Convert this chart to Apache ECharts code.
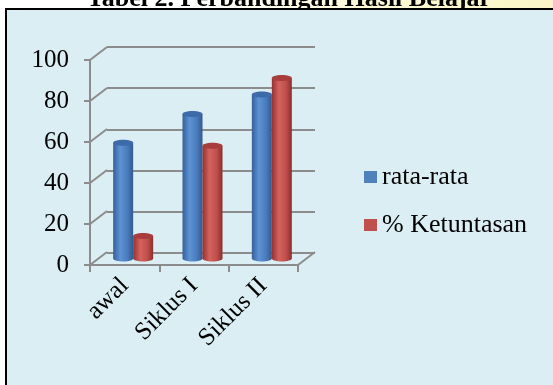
<!DOCTYPE html>
<html>
<head>
<meta charset="utf-8">
<script src="https://cdn.jsdelivr.net/npm/echarts@6/dist/echarts.min.js"></script>
<style>
  html, body { margin: 0; padding: 0; background: #fff; }
  #chart { width: 553px; height: 385px; }
</style>
</head>
<body>
<div id="chart"></div>
<script>
// data
const categories = ['awal', 'Siklus I', 'Siklus II'];
const rataRata = [56.5, 70.5, 80];
const ketuntasan = [11, 55, 88];
const yTicks = [0, 20, 40, 60, 80, 100];

const FONT = '"Liberation Serif", "Times New Roman", serif';
const DX = 17, DY = -13; // depth of the 3d box
const BAR_W = 20;

const chart = echarts.init(document.getElementById('chart'));

// left wall diagonals + right floor edge
function renderWall(params, api) {
  const cs = params.coordSys;
  const y = api.coord([0, api.value(0)])[1];
  const children = [{
    type: 'line',
    shape: { x1: cs.x, y1: y, x2: cs.x + DX, y2: y + DY },
    style: { stroke: '#8c8c8c', lineWidth: 2 }
  }];
  if (api.value(0) === 0) {
    children.push({
      type: 'line',
      shape: { x1: cs.x + cs.width, y1: y, x2: cs.x + cs.width + DX, y2: y + DY },
      style: { stroke: '#8c8c8c', lineWidth: 2 }
    });
  }
  return { type: 'group', children };
}

function cylinder(side, colors) {
  return function (params, api) {
    const cat = api.value(0);
    const base = api.coord([cat, 0]);
    const top = api.coord([cat, api.value(1)]);
    const cx = base[0] + DX / 2 + side * BAR_W / 2;
    const yb = base[1] + DY / 2;
    const yt = top[1] + DY / 2;
    const rx = BAR_W / 2, ry = 3;
    const grad = new echarts.graphic.LinearGradient(0, 0, 1, 0, [
      { offset: 0, color: colors[0] },
      { offset: 0.35, color: colors[1] },
      { offset: 0.7, color: colors[2] },
      { offset: 1, color: colors[3] }
    ]);
    return {
      type: 'group',
      children: [
        { type: 'ellipse', shape: { cx, cy: yb, rx, ry }, style: { fill: grad } },
        { type: 'rect', shape: { x: cx - rx, y: yt, width: BAR_W, height: yb - yt }, style: { fill: grad } },
        { type: 'ellipse', shape: { cx, cy: yt, rx, ry }, style: { fill: colors[4] } }
      ]
    };
  };
}

const option = {
  backgroundColor: '#ffffff',
  textStyle: { fontFamily: FONT },
  graphic: [
    {
      type: 'rect', z: -10,
      shape: { x: 0, y: 0, width: 553, height: 10 },
      style: {
        fill: new echarts.graphic.LinearGradient(0, 0, 1, 0, [
          { offset: 0, color: '#ffffff' },
          { offset: 0.35, color: '#ffffff' },
          { offset: 0.7, color: '#fcf8d2' },
          { offset: 1, color: '#fbf6c8' }
        ])
      }
    },
    {
      type: 'text', z: -5,
      style: {
        text: 'Tabel 2. Perbandingan Hasil Belajar',
        x: 289, y: 12,
        textAlign: 'center', textVerticalAlign: 'bottom',
        font: 'bold 26px ' + FONT, fill: '#000'
      }
    },
    {
      type: 'rect', z: -4,
      shape: { x: 6, y: 9, width: 560, height: 390 },
      style: { fill: '#dbeef4', stroke: '#000', lineWidth: 2 }
    }
  ],
  legend: {
    orient: 'vertical',
    left: 359, top: 159,
    icon: 'rect',
    itemWidth: 13, itemHeight: 12,
    itemGap: 22,
    textStyle: { fontSize: 26, lineHeight: 26, color: '#000', fontFamily: FONT },
    data: ['rata-rata', '% Ketuntasan']
  },
  grid: [
    { left: 107, top: 47, width: 208, height: 206 },
    { left: 90, top: 60, width: 208, height: 205 }
  ],
  xAxis: [
    { gridIndex: 0, type: 'category', data: categories, show: false },
    {
      gridIndex: 1, type: 'category', data: categories,
      axisLine: { lineStyle: { color: '#8c8c8c', width: 2 } },
      axisTick: { show: true, length: 7, lineStyle: { color: '#8c8c8c', width: 2 } },
      axisLabel: { rotate: 45, margin: 17, fontSize: 25, color: '#000', fontFamily: FONT }
    }
  ],
  yAxis: [
    {
      gridIndex: 0, min: 0, max: 100, interval: 20,
      axisLine: { show: false }, axisTick: { show: false }, axisLabel: { show: false },
      splitLine: { lineStyle: { color: '#8c8c8c', width: 2 } }
    },
    {
      gridIndex: 1, min: 0, max: 100, interval: 20,
      axisLine: { show: true, lineStyle: { color: '#8c8c8c', width: 2 } },
      axisTick: { show: true, length: 6, lineStyle: { color: '#8c8c8c', width: 2 } },
      axisLabel: { margin: 21, fontSize: 25, color: '#000', fontFamily: FONT },
      splitLine: { show: false }
    }
  ],
  series: [
    {
      type: 'custom', name: 'wall', xAxisIndex: 1, yAxisIndex: 1,
      renderItem: renderWall, data: yTicks.map(v => [v]), silent: true, z: 1
    },
    {
      type: 'custom', name: 'rata-rata', xAxisIndex: 1, yAxisIndex: 1,
      itemStyle: { color: '#4f81bd' },
      renderItem: cylinder(-1, ['#35609a', '#5d92d4', '#4a7dbd', '#33598f', '#3d6aa8']),
      data: rataRata.map((v, i) => [i, v]), z: 3
    },
    {
      type: 'custom', name: '% Ketuntasan', xAxisIndex: 1, yAxisIndex: 1,
      itemStyle: { color: '#c0504d' },
      renderItem: cylinder(1, ['#95312f', '#d4625f', '#c0504d', '#8a2f2d', '#a83e3b']),
      data: ketuntasan.map((v, i) => [i, v]), z: 3
    }
  ]
};

chart.setOption(option);
</script>
</body>
</html>
